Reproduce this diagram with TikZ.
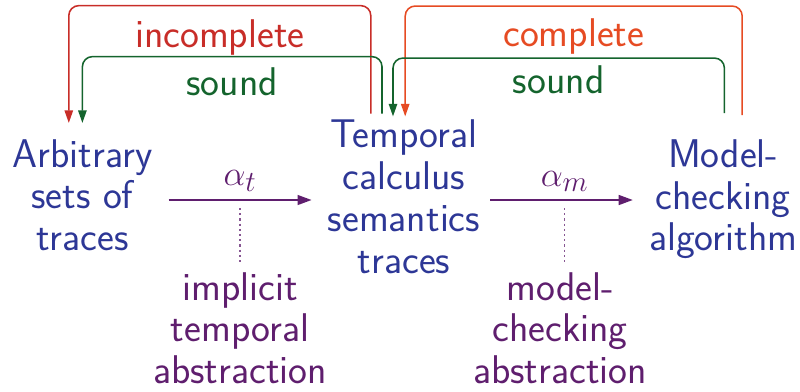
\documentclass[tikz,border=0pt]{standalone}
\usepackage{fontspec}
\usepackage{tikz}
\usetikzlibrary{arrows.meta,positioning}

\definecolor{traceblue}{RGB}{45,55,150}
\definecolor{abspurple}{RGB}{95,30,110}
\definecolor{incred}{RGB}{200,45,40}
\definecolor{comporange}{RGB}{230,75,35}
\definecolor{soundgreen}{RGB}{20,100,45}

\begin{document}
\begin{tikzpicture}[
    trace/.style={font=\sffamily\fontsize{28.5}{29.8}\selectfont, text=traceblue,
      align=center, inner sep=0pt},
    absnote/.style={font=\sffamily\fontsize{28.5}{29.5}\selectfont, text=abspurple,
      align=center, inner sep=0pt},
    lbl/.style={font=\sffamily\fontsize{28.5}{29.5}\selectfont, inner sep=0pt},
    alpha/.style={-{Triangle[length=10pt,width=7pt]}, draw=abspurple, line width=1.3pt},
    link/.style={-{Triangle[length=9pt,width=6pt]}, line width=1.1pt, rounded corners=0.25cm},
    dots/.style={draw=abspurple!75, line width=1.2pt, dash pattern=on 1.5pt off 2.2pt},
  ]
    \useasboundingbox (0,0) rectangle (20,-9.775);

    % Traces
    \node[trace] (arb) at (2.06, -4.88) {Arbitrary\\sets of\\traces};
    \node[trace] (temp) at (10.1, -4.92) {Temporal\\calculus\\semantics\\traces};
    \node[trace] (algo) at (18.08, -4.98) {Model-\\checking\\algorithm};

    % Abstractions
    \draw[alpha, shorten <=0.4cm, shorten >=0.4cm]
      ([yshift=-0.12cm]arb.east) -- ([yshift=-0.12cm]arb.east -| temp.west)
      node[midway, above=2pt, text=abspurple, font=\fontsize{28.5}{29.5}\selectfont] {$\alpha_t$}
      coordinate[midway] (at);
    \draw[alpha, shorten <=0.25cm, shorten >=0.4cm]
      ([yshift=-0.12cm]arb.east -| temp.east) -- ([yshift=-0.12cm]arb.east -| algo.west)
      node[midway, above=2pt, text=abspurple, font=\fontsize{28.5}{29.5}\selectfont] {$\alpha_m$}
      coordinate[midway] (am);

    \node[absnote] (impl) at (6.0, -8.2) {implicit\\temporal\\abstraction};
    \node[absnote] (mcabs) at (14.0, -8.2) {model-\\checking\\abstraction};

    \draw[dots, shorten <=0.2cm, shorten >=0.25cm] (at) -- (at |- impl.north);
    \draw[dots, shorten <=0.2cm, shorten >=0.25cm] (am) -- (am |- mcabs.north);

    % Soundness and completeness
    \draw[link, incred] ([xshift=-0.83cm, yshift=0.15cm]temp.north) -- ++(0, 2.7)
      -| node[pos=0.25, lbl, below=0.33cm] {incomplete}
      ([xshift=-0.34cm, yshift=0.4cm]arb.north);
    \draw[link, soundgreen] ([xshift=-0.55cm, yshift=0.15cm]temp.north) -- ++(0, 1.425)
      -| node[pos=0.25, lbl, below=0.25cm] {sound}
      ([xshift=0cm, yshift=0.4cm]arb.north);
    \draw[link, comporange] ([xshift=0.475cm, yshift=0.6cm]algo.north) -- ++(0, 2.725)
      -| node[pos=0.25, lbl, below=0.3cm] {complete}
      ([xshift=0.03cm, yshift=0.08cm]temp.north);
    \draw[link, soundgreen] ([xshift=0.03cm, yshift=0.65cm]algo.north) -- ++(0, 1.375)
      -| node[pos=0.25, lbl, below=0.18cm] {sound}
      ([xshift=-0.275cm, yshift=0.08cm]temp.north);
  \end{tikzpicture}
\end{document}
